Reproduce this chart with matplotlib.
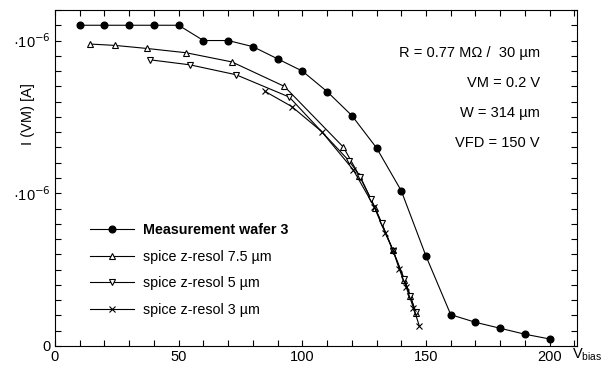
import numpy as np
import matplotlib
matplotlib.use("Agg")
import matplotlib.pyplot as plt
from matplotlib.ticker import MultipleLocator, FixedLocator, FixedFormatter

plt.rcParams["font.family"] = ["Liberation Sans", "DejaVu Sans"]

# current values in units of 1e-6 A
meas_v = [10, 20, 30, 40, 50, 60, 70, 80, 90, 100, 110, 120, 130, 140, 150,
          160, 170, 180, 190, 200]
meas_i = [2.10, 2.10, 2.10, 2.10, 2.10, 2.00, 2.00, 1.96, 1.88, 1.80, 1.666,
          1.509, 1.297, 1.016, 0.588, 0.205, 0.155, 0.116, 0.077, 0.046]

z75_v = [14.1, 24.3, 37.2, 53.0, 71.5, 92.7, 116.6, 123.0, 129.4, 136.6,
         141.2, 143.6, 145.9]
z75_i = [1.977, 1.968, 1.948, 1.92, 1.86, 1.70, 1.302, 1.116, 0.906, 0.629,
         0.432, 0.33, 0.214]

z5_v = [38.3, 54.5, 73.2, 94.7, 118.9, 123.4, 127.7, 132.1, 136.6, 141.2,
        143.6, 145.9]
z5_i = [1.874, 1.841, 1.776, 1.63, 1.212, 1.109, 0.963, 0.804, 0.625, 0.44,
        0.33, 0.22]

z3_v = [84.9, 95.7, 107.8, 120.6, 129.0, 133.5, 136.6, 139.2, 141.9, 144.9,
        147.3]
z3_i = [1.667, 1.568, 1.404, 1.153, 0.913, 0.739, 0.63, 0.503, 0.389, 0.251,
        0.131]

labels = ["Measurement wafer 3", "spice z-resol 7.5 µm",
          "spice z-resol 5 µm", "spice z-resol 3 µm"]
notes = ["R = 0.77 MΩ /  30 µm", "VM = 0.2 V", "W = 314 µm", "VFD = 150 V"]

fig = plt.figure(figsize=(6.09, 3.71), dpi=100)
ax = fig.add_axes([0.0903, 0.0674, 0.857, 0.9057])

lw = 0.8
ax.plot(meas_v, np.array(meas_i) * 1e-6, "-o", color="black", lw=lw,
        ms=4.8, mfc="black", label=labels[0])
ax.plot(z75_v, np.array(z75_i) * 1e-6, "-^", color="black", lw=lw,
        ms=4.6, mfc="white", mew=0.8, label=labels[1])
ax.plot(z5_v, np.array(z5_i) * 1e-6, "-v", color="black", lw=lw,
        ms=4.6, mfc="white", mew=0.8, label=labels[2])
ax.plot(z3_v, np.array(z3_i) * 1e-6, "-x", color="black", lw=lw,
        ms=4.2, mew=0.8, label=labels[3])

ax.set_xlim(0, 211)
ax.set_ylim(0, 2.2e-6)

ax.xaxis.set_major_locator(MultipleLocator(50))
ax.xaxis.set_minor_locator(MultipleLocator(10))
ax.yaxis.set_major_locator(FixedLocator([0, 1e-6, 2e-6]))
ax.yaxis.set_major_formatter(FixedFormatter(["0", "·10$^{-6}$", "·10$^{-6}$"]))
ax.yaxis.set_minor_locator(MultipleLocator(0.1e-6))
ax.tick_params(which="both", direction="in", top=True, right=True,
               length=4, width=0.8, labelsize=10.5, pad=3)
for s in ax.spines.values():
    s.set_linewidth(0.8)

ax.set_ylabel("I (VM) [A]", fontsize=10.5)
ax.yaxis.set_label_coords(-0.039, 0.69)
ax.text(0.99, -0.037, "V$_{\\mathregular{bias}}$", transform=ax.transAxes,
        fontsize=10.5, ha="left", va="baseline")

for k, t in enumerate(notes):
    ax.text(0.929, 0.872 - k * 0.0893, t, transform=ax.transAxes,
            ha="right", va="center", fontsize=10.5)

leg = ax.legend(loc="lower left", bbox_to_anchor=(0.067, 0.087),
                frameon=False, fontsize=10.3, handlelength=3.08,
                handletextpad=0.63, labelspacing=0.87, borderpad=0,
                borderaxespad=0)
leg.get_texts()[0].set_fontweight("bold")

fig.savefig("out.png", dpi=100)
